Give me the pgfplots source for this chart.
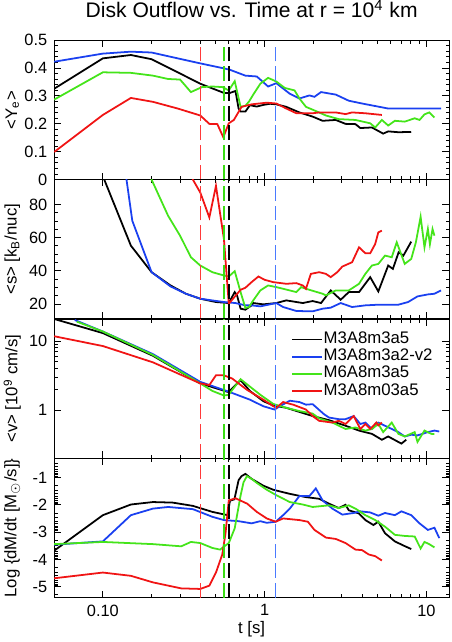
\documentclass[border=0pt]{standalone}
\usepackage{fontspec}
\setmainfont{Liberation Sans}
\usepackage{pgfplots}
\pgfplotsset{compat=1.18}
\usepgfplotslibrary{groupplots}

\definecolor{cblue}{HTML}{1A40F0}
\definecolor{cgreen}{HTML}{44E41A}
\definecolor{cred}{HTML}{F01414}
\definecolor{dred}{HTML}{FF3A3A}
\definecolor{dgreen}{HTML}{3ADD14}
\definecolor{dblue}{HTML}{4A7AFF}

% vertical dashed markers (one per model)
\newcommand{\vlines}[2]{%
  \addplot[dred, dash pattern=on 7.5pt off 2.5pt, line width=0.75pt, forget plot] coordinates {(0.40,#1) (0.40,#2)};
  \addplot[dgreen, dash pattern=on 7.5pt off 2.5pt, line width=0.75pt, forget plot] coordinates {(0.56,#1) (0.56,#2)};
  \addplot[black, dash pattern=on 7.5pt off 2.5pt, line width=0.75pt, forget plot] coordinates {(0.60,#1) (0.60,#2)};
  \addplot[dblue, dash pattern=on 7.5pt off 2.5pt, line width=0.75pt, forget plot] coordinates {(1.17,#1) (1.17,#2)};
}

\begin{document}
\begin{tikzpicture}
\begin{groupplot}[
  group style={group size=1 by 4, vertical sep=0pt, group name=g},
  width=200.5pt, height=70.75pt, scale only axis,
  clip bounding box=upper bound,
  xmode=log, xmin=0.05, xmax=13.8,
  xtick={0.1,1,10}, xticklabels={},
  major tick length=3.5pt, minor tick length=1.8pt,
  tick style={line width=0.5pt, black},
  axis line style={line width=0.6pt},
  ticklabel style={font=\fontsize{8.3}{9}\selectfont},
  label style={font=\fontsize{8.5}{9}\selectfont},
  ylabel style={at={(axis description cs:-0.106,0.5)}, anchor=center, inner sep=0pt},
  every axis plot/.append style={line width=0.9pt},
  /pgf/number format/assume math mode=true,
]

% ---- panel 1: Ye
\nextgroupplot[
  ymin=0, ymax=0.5,
  ytick={0,0.1,0.2,0.3,0.4,0.5}, yticklabels={0,0.1,0.2,0.3,0.4,0.5},
  minor y tick num=4,
  ylabel={<Y\textsubscript{e}>},
  title={Disk Outflow vs. Time at r = 10\textsuperscript{4} km},
  title style={font=\fontsize{10.7}{12}\selectfont, inner sep=0pt, yshift=5pt},
]
\addplot[black] coordinates {(0.05,0.326)(0.1,0.435)(0.149,0.447)(0.2,0.432)(0.29,0.385)(0.4,0.344)(0.56,0.311)(0.61,0.311)(0.66,0.318)(0.69,0.255)(0.71,0.244)(0.76,0.244)(0.81,0.267)(0.894,0.262)(0.98,0.268)(1.08,0.272)(1.18,0.270)(1.36,0.261)(1.64,0.241)(1.98,0.226)(2.28,0.211)(2.75,0.214)(3.16,0.200)(3.64,0.199)(3.9,0.185)(4.6,0.187)(5.4,0.165)(5.8,0.173)(6.7,0.170)(8.05,0.171)};
\addplot[cblue] coordinates {(0.05,0.423)(0.1,0.452)(0.149,0.459)(0.2,0.456)(0.29,0.435)(0.4,0.417)(0.56,0.399)(0.61,0.394)(0.76,0.373)(0.894,0.370)(1.05,0.334)(1.18,0.346)(1.43,0.308)(1.64,0.291)(1.89,0.302)(2.03,0.297)(2.23,0.314)(2.75,0.305)(3.31,0.283)(4.0,0.273)(5.8,0.255)(12.3,0.255)};
\addplot[cgreen] coordinates {(0.05,0.287)(0.1,0.385)(0.149,0.383)(0.204,0.373)(0.253,0.361)(0.30,0.359)(0.35,0.314)(0.41,0.332)(0.475,0.334)(0.547,0.332)(0.60,0.320)(0.653,0.353)(0.71,0.261)(0.76,0.265)(0.80,0.280)(0.85,0.305)(0.94,0.344)(1.05,0.365)(1.18,0.352)(1.33,0.329)(1.53,0.320)(1.64,0.291)(1.8,0.261)(2.07,0.246)(2.39,0.230)(2.87,0.217)(3.64,0.214)(4.49,0.202)(4.82,0.187)(5.3,0.214)(5.8,0.194)(6.38,0.211)(7.34,0.208)(8.45,0.220)(9.06,0.214)(9.72,0.234)(10.4,0.241)(11.2,0.223)};
\addplot[cred] coordinates {(0.05,0.099)(0.1,0.232)(0.149,0.293)(0.204,0.279)(0.29,0.255)(0.4,0.230)(0.455,0.200)(0.51,0.199)(0.555,0.152)(0.60,0.202)(0.645,0.214)(0.72,0.261)(0.83,0.270)(1.03,0.276)(1.18,0.273)(1.36,0.255)(1.57,0.238)(1.98,0.238)(2.17,0.241)(2.75,0.241)(3.16,0.235)(3.47,0.241)(4.19,0.238)(5.3,0.232)};
\vlines{0}{0.49}

% ---- panel 2: entropy
\nextgroupplot[
  ymin=11, ymax=95,
  ytick={20,40,60,80}, yticklabels={20,40,60,80},
  minor y tick num=3,
  ylabel={<s> [k\textsubscript{B}/nuc]},
]
\addplot[black] coordinates {(0.099,98)(0.102,95)(0.149,55.2)(0.2,39.2)(0.262,31.2)(0.326,26.2)(0.4,23.2)(0.5,21.2)(0.60,20.6)(0.653,27.2)(0.675,25.2)(0.71,17.2)(0.76,16.6)(0.83,19.2)(0.85,20.6)(0.98,19.8)(1.18,20.6)(1.36,22.2)(1.72,20.6)(1.98,21.8)(2.23,20.6)(2.56,28.2)(2.95,22.6)(3.31,27.2)(3.83,27.2)(4.49,36.2)(5.04,27.6)(5.8,43.2)(6.2,41.2)(6.73,51.2)(7.2,49.2)(8.05,57.6)};
\addplot[cblue] coordinates {(0.1395,98)(0.14,95)(0.152,70.2)(0.2,39.2)(0.262,30.6)(0.326,26.2)(0.4,23.2)(0.56,21.2)(0.66,20.6)(0.76,19.2)(0.83,19.2)(0.94,18.6)(1.18,20.6)(1.30,18.2)(1.57,15.8)(1.98,15.6)(2.28,17.2)(2.56,17.8)(2.95,20.6)(3.47,18.2)(4.19,19.2)(5.04,19.6)(6.7,19.6)(7.7,21.2)(8.8,24.6)(10.2,25.8)(11.2,26.2)(12.3,28.2)};
\addplot[cgreen] coordinates {(0.199,98)(0.2,95)(0.253,73.2)(0.3,61.2)(0.35,48.2)(0.4,43.2)(0.475,39.2)(0.56,37.2)(0.6,36.6)(0.653,39.8)(0.71,27.2)(0.76,17.6)(0.80,18.2)(0.85,22.2)(0.94,28.2)(1.05,31.2)(1.18,30.2)(1.30,29.2)(1.57,27.2)(1.68,30.2)(1.8,29.2)(2.28,26.2)(2.39,25.2)(2.75,28.2)(3.31,28.2)(3.83,32.2)(4.19,38.2)(4.6,43.2)(5.04,44.2)(5.54,49.2)(6.1,48.2)(6.55,57.2)(7.34,44.2)(8.05,47.2)(8.6,57.2)(9.2,72.6)(9.72,54.2)(10.2,65.2)(10.5,56)(10.9,65.2)(11.2,61.2)};
\addplot[cred] coordinates {(0.355,98)(0.36,95)(0.4,87.2)(0.455,72.2)(0.5,91.2)(0.56,59.2)(0.6,20.2)(0.71,28.6)(0.76,29.8)(0.83,33.2)(0.915,36.6)(1.0,34.6)(1.13,33.2)(1.36,32.2)(1.57,32.6)(1.72,31.2)(1.8,29.2)(1.93,38.2)(2.17,39.2)(2.39,38.2)(2.56,36.2)(2.81,39.2)(3.02,42.6)(3.47,45.2)(3.83,54.2)(4.19,50.6)(4.49,50.6)(4.82,56.2)(5.04,63.2)(5.3,64.2)};
\vlines{11}{95}

% ---- panel 3: velocity
\nextgroupplot[
  ymode=log, ymin=0.2, ymax=21,
  ytick={1,10}, yticklabels={1,10},
  ylabel={<v> [10\textsuperscript{9} cm/s]},
  legend style={at={(0.977,0.944)}, anchor=north east, draw=none, fill=none,
    font=\fontsize{8.5}{9}\selectfont, row sep=0pt, nodes={inner sep=0.6pt}},
  legend cell align=left,
  legend image code/.code={\draw[#1] (0pt,0pt) -- (15pt,0pt);},
]
\addplot[black] coordinates {(0.05,21)(0.1,13.1)(0.204,6.14)(0.4,2.44)(0.6,1.82)(0.63,2.07)(0.71,2.72)(0.81,1.9)(0.98,1.35)(1.13,1.17)(1.36,1.08)(1.98,0.82)(2.5,0.715)(3.16,0.594)(3.83,0.505)(4.6,0.453)(5.3,0.372)(5.8,0.415)(7.0,0.327)(7.5,0.372)};
\addplot[cblue] coordinates {(0.067,20.3)(0.1,13.8)(0.204,6.49)(0.4,2.57)(0.6,1.85)(0.81,1.42)(0.98,1.14)(1.15,1.02)(1.25,1.15)(1.43,1.37)(1.64,1.31)(1.8,1.20)(1.98,1.22)(2.1,1.08)(2.33,0.87)(2.5,0.78)(2.87,0.74)(3.16,0.74)(3.55,0.82)(3.9,0.63)(4.2,0.66)(4.6,0.533)(5.04,0.66)(6.1,0.533)(6.7,0.48)(7.34,0.415)(8.05,0.44)(8.8,0.43)(10.2,0.48)(11.2,0.505)(12.0,0.49)};
\addplot[cgreen] coordinates {(0.069,19.2)(0.1,13.8)(0.204,6.3)(0.4,2.44)(0.475,1.90)(0.56,1.63)(0.6,1.67)(0.63,1.96)(0.71,2.81)(0.83,2.1)(0.94,1.67)(1.13,1.23)(1.36,1.08)(1.64,0.97)(1.98,0.89)(2.17,0.76)(2.62,0.66)(3.16,0.533)(3.64,0.56)(4.19,0.505)(4.6,0.533)(5.04,0.63)(5.4,0.48)(6.1,0.66)(6.7,0.453)(7.34,0.415)(8.45,0.48)(8.8,0.346)(9.72,0.505)(10.7,0.453)(11.2,0.45)};
\addplot[cred] coordinates {(0.05,11.8)(0.1,8.5)(0.204,4.93)(0.4,2.44)(0.455,2.31)(0.5,3.2)(0.56,3.2)(0.63,2.87)(0.78,1.96)(0.98,1.42)(1.13,1.14)(1.18,1.08)(1.30,1.31)(1.50,1.20)(1.8,1.02)(1.98,0.82)(2.17,0.70)(2.62,0.66)(2.87,0.70)(3.16,0.63)(3.55,0.82)(3.9,0.533)(4.19,0.63)(4.49,0.533)(4.9,0.66)(5.04,0.6)(5.3,0.66)};
\legend{M3A8m3a5, M3A8m3a2-v2, M6A8m3a5, M3A8m03a5}
\vlines{0.2}{21}

% ---- panel 4: mass outflow rate
\nextgroupplot[
  ymin=-5.4, ymax=-0.3,
  ytick={-1,-2,-3,-4,-5}, yticklabels={-1,-2,-3,-4,-5},
  minor ytick={-0.477,-0.602,-0.699,-0.778,-0.845,-0.903,-0.954,
    -1.301,-1.477,-1.602,-1.699,-1.778,-1.845,-1.903,-1.954,
    -2.301,-2.477,-2.602,-2.699,-2.778,-2.845,-2.903,-2.954,
    -3.301,-3.477,-3.602,-3.699,-3.778,-3.845,-3.903,-3.954,
    -4.301,-4.477,-4.602,-4.699,-4.778,-4.845,-4.903,-4.954,-5.301},
  ylabel={Log \{dM/dt [M\textsubscript{$\odot$}/s]\}},
  xticklabels={0.10,1,10},
  xlabel={t [s]},
  xlabel style={at={(rel axis cs:0.5,0)}, anchor=base, yshift=-18pt, inner sep=0pt},
]
\addplot[black] coordinates {(0.05,-3.68)(0.1,-2.38)(0.149,-1.99)(0.204,-1.90)(0.27,-1.92)(0.36,-2.04)(0.475,-2.26)(0.59,-2.38)(0.61,-1.85)(0.65,-1.8)(0.69,-1.1)(0.72,-0.95)(0.76,-0.87)(0.83,-1.05)(0.98,-1.3)(1.13,-1.45)(1.43,-1.6)(1.8,-1.72)(2.17,-1.78)(2.5,-1.96)(2.87,-2.12)(3.16,-2.0)(3.31,-2.20)(3.83,-2.32)(4.19,-2.56)(4.7,-2.74)(5.04,-2.62)(5.54,-3.04)(6.38,-3.34)(7.2,-3.49)(8.05,-3.62)};
\addplot[cblue] coordinates {(0.05,-3.46)(0.1,-3.34)(0.149,-2.38)(0.204,-2.14)(0.253,-2.08)(0.36,-2.16)(0.475,-2.44)(0.56,-2.56)(0.69,-2.60)(0.83,-2.68)(0.94,-2.60)(1.03,-2.66)(1.17,-2.62)(1.30,-2.38)(1.43,-2.14)(1.64,-1.68)(1.89,-1.68)(1.98,-1.54)(2.07,-1.40)(2.28,-1.84)(2.62,-2.14)(3.02,-2.36)(3.55,-2.30)(3.9,-2.24)(4.49,-2.28)(5.04,-2.40)(5.54,-2.30)(6.38,-2.38)(7.0,-2.24)(8.05,-2.38)(9.06,-2.68)(10.2,-2.92)(11.2,-2.84)(12.0,-3.22)};
\addplot[cgreen] coordinates {(0.05,-3.44)(0.1,-3.36)(0.204,-3.44)(0.305,-3.52)(0.35,-3.36)(0.4,-3.40)(0.475,-3.58)(0.53,-3.64)(0.6,-3.40)(0.653,-2.86)(0.71,-1.66)(0.74,-1.18)(0.777,-0.95)(0.83,-1.05)(0.894,-1.2)(1.03,-1.45)(1.18,-1.65)(1.43,-1.90)(1.72,-1.99)(1.98,-2.08)(2.5,-2.02)(2.87,-2.12)(3.31,-2.02)(3.64,-2.14)(4.19,-2.38)(4.82,-2.56)(5.54,-2.80)(6.38,-3.10)(7.34,-3.14)(8.45,-3.16)(9.2,-3.60)(9.72,-3.36)(10.4,-3.44)(11.2,-3.56)};
\addplot[cred] coordinates {(0.05,-4.69)(0.1,-4.48)(0.149,-4.60)(0.204,-4.84)(0.305,-5.06)(0.4,-5.08)(0.455,-4.96)(0.5,-4.48)(0.547,-3.82)(0.573,-3.04)(0.6,-1.84)(0.66,-1.76)(0.78,-1.96)(0.894,-2.26)(1.03,-2.50)(1.17,-2.62)(1.30,-2.50)(1.64,-2.56)(1.85,-2.62)(2.03,-2.92)(2.39,-3.20)(2.75,-3.25)(3.16,-3.40)(3.64,-3.64)(4.0,-3.66)(4.4,-3.82)(4.82,-3.88)(5.3,-4.04)};
\vlines{-5.4}{-0.3}
\end{groupplot}
% fix the page margins around the panels
\path (g c1r4.south west) ++(-27.5pt,-22.5pt);
\path (g c1r1.north east) ++(1pt,15.5pt);
\end{tikzpicture}
\end{document}
